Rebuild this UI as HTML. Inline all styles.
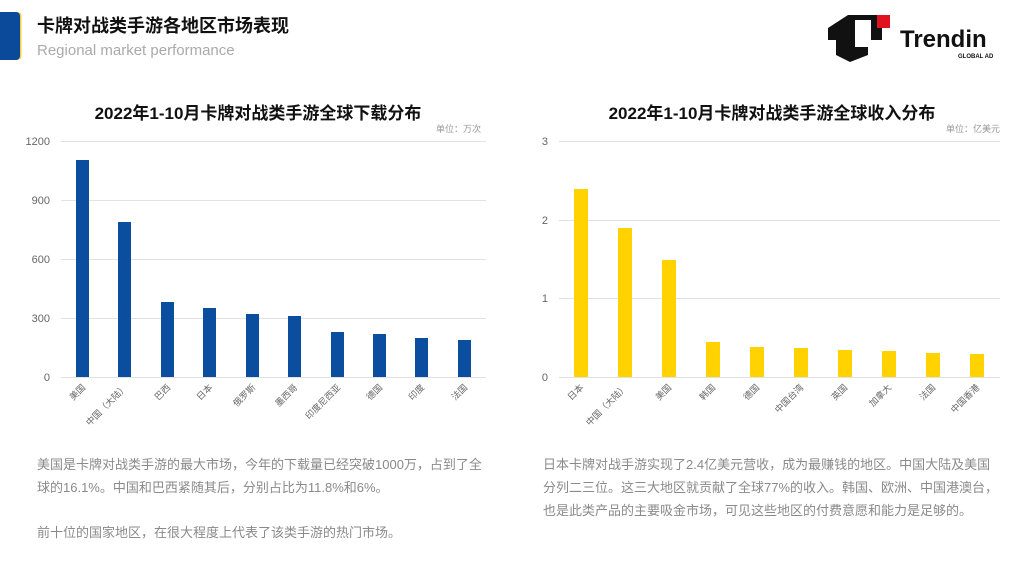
<!DOCTYPE html>
<html><head><meta charset="utf-8"><style>
html,body{margin:0;padding:0;background:#fff;}
body{width:1024px;height:576px;position:relative;overflow:hidden;font-family:"Liberation Sans","Noto Sans CJK SC",sans-serif;}
.p{position:absolute;color:#8a8a8a;font-size:13px;line-height:23px;white-space:nowrap;}
</style></head><body>
<div style="position:absolute;left:0;top:12px;width:20px;height:48px;background:#0b4a9a;border-radius:0 4px 4px 0;box-shadow:1.5px 0 0 #f2d13a;"></div>
<div style="position:absolute;left:37px;top:12px;font-size:18px;font-weight:bold;color:#111;">卡牌对战类手游各地区市场表现</div>
<div style="position:absolute;left:37px;top:42px;font-size:15px;color:#aaa;">Regional market performance</div>
<svg style="position:absolute;left:0;top:0" width="1024" height="576">
  <polygon points="848,15 882,15 882,40 868,40 868,55 850,62 836,55 836,40 828,40 828,28" fill="#111"/>
  <rect x="855" y="20" width="16" height="27" fill="#fff"/>
  <rect x="877" y="15" width="13" height="13" fill="#e0141e"/>
  <text x="900" y="47" font-family="Liberation Sans" font-weight="bold" font-size="24" fill="#111">Trendin</text>
  <text x="958" y="58" font-family="Liberation Sans" font-weight="bold" font-size="6" fill="#111">GLOBAL AD</text>
</svg>
<svg style="position:absolute;left:0;top:0" width="1024" height="576" font-family="Liberation Sans, Noto Sans CJK SC, sans-serif">
  <text x="258" y="119" text-anchor="middle" font-size="17" font-weight="bold" fill="#111">2022年1-10月卡牌对战类手游全球下载分布</text>
  <text x="481" y="132" text-anchor="end" font-size="9" fill="#999">单位：万次</text>
  <g stroke="#e2e2e2" stroke-width="1">
    <line x1="61" x2="486" y1="141.5" y2="141.5"/><line x1="61" x2="486" y1="200.5" y2="200.5"/>
    <line x1="61" x2="486" y1="259.5" y2="259.5"/><line x1="61" x2="486" y1="318.5" y2="318.5"/>
    <line x1="61" x2="486" y1="377.5" y2="377.5"/>
  </g>
  <g font-size="11" fill="#666" text-anchor="end">
    <text x="50" y="145">1200</text><text x="50" y="204">900</text><text x="50" y="263">600</text><text x="50" y="322">300</text><text x="50" y="381">0</text>
  </g>
  <g fill="#0b4d9e">
    <rect x="76" y="160" width="13" height="217"/><rect x="118" y="222" width="13" height="155"/>
    <rect x="161" y="302" width="13" height="75"/><rect x="203" y="308" width="13" height="69"/>
    <rect x="246" y="314" width="13" height="63"/><rect x="288" y="316" width="13" height="61"/>
    <rect x="331" y="332" width="13" height="45"/><rect x="373" y="334" width="13" height="43"/>
    <rect x="415" y="338" width="13" height="39"/><rect x="458" y="340" width="13" height="37"/>
  </g>
  <g font-size="9" fill="#666" text-anchor="end">
    <text transform="translate(86,388) rotate(-45)">美国</text>
    <text transform="translate(128,388) rotate(-45)">中国（大陆）</text>
    <text transform="translate(171,388) rotate(-45)">巴西</text>
    <text transform="translate(213,388) rotate(-45)">日本</text>
    <text transform="translate(256,388) rotate(-45)">俄罗斯</text>
    <text transform="translate(298,388) rotate(-45)">墨西哥</text>
    <text transform="translate(341,388) rotate(-45)">印度尼西亚</text>
    <text transform="translate(383,388) rotate(-45)">德国</text>
    <text transform="translate(425,388) rotate(-45)">印度</text>
    <text transform="translate(468,388) rotate(-45)">法国</text>
  </g>

  <text x="772" y="119" text-anchor="middle" font-size="17" font-weight="bold" fill="#111">2022年1-10月卡牌对战类手游全球收入分布</text>
  <text x="1000" y="132" text-anchor="end" font-size="9" fill="#999">单位：亿美元</text>
  <g stroke="#e2e2e2" stroke-width="1">
    <line x1="559" x2="1000" y1="141.5" y2="141.5"/><line x1="559" x2="1000" y1="220.5" y2="220.5"/>
    <line x1="559" x2="1000" y1="298.5" y2="298.5"/><line x1="559" x2="1000" y1="377.5" y2="377.5"/>
  </g>
  <g font-size="11" fill="#666" text-anchor="end">
    <text x="548" y="145">3</text><text x="548" y="224">2</text><text x="548" y="302">1</text><text x="548" y="381">0</text>
  </g>
  <g fill="#ffd200">
    <rect x="574" y="189" width="14" height="188"/><rect x="618" y="228" width="14" height="149"/>
    <rect x="662" y="260" width="14" height="117"/><rect x="706" y="342" width="14" height="35"/>
    <rect x="750" y="347" width="14" height="30"/><rect x="794" y="348" width="14" height="29"/>
    <rect x="838" y="350" width="14" height="27"/><rect x="882" y="351" width="14" height="26"/>
    <rect x="926" y="353" width="14" height="24"/><rect x="970" y="354" width="14" height="23"/>
  </g>
  <g font-size="9" fill="#666" text-anchor="end">
    <text transform="translate(584,388) rotate(-45)">日本</text>
    <text transform="translate(628,388) rotate(-45)">中国（大陆）</text>
    <text transform="translate(672,388) rotate(-45)">美国</text>
    <text transform="translate(716,388) rotate(-45)">韩国</text>
    <text transform="translate(760,388) rotate(-45)">德国</text>
    <text transform="translate(804,388) rotate(-45)">中国台湾</text>
    <text transform="translate(848,388) rotate(-45)">英国</text>
    <text transform="translate(892,388) rotate(-45)">加拿大</text>
    <text transform="translate(936,388) rotate(-45)">法国</text>
    <text transform="translate(980,388) rotate(-45)">中国香港</text>
  </g>
</svg>
<div class="p" style="left:37px;top:453px;">美国是卡牌对战类手游的最大市场，今年的下载量已经突破1000万，占到了全<br>球的16.1%。中国和巴西紧随其后，分别占比为11.8%和6%。</div>
<div class="p" style="left:37px;top:521px;">前十位的国家地区，在很大程度上代表了该类手游的热门市场。</div>
<div class="p" style="left:543px;top:453px;">日本卡牌对战手游实现了2.4亿美元营收，成为最赚钱的地区。中国大陆及美国<br>分列二三位。这三大地区就贡献了全球77%的收入。韩国、欧洲、中国港澳台，<br>也是此类产品的主要吸金市场，可见这些地区的付费意愿和能力是足够的。</div>
</body></html>
